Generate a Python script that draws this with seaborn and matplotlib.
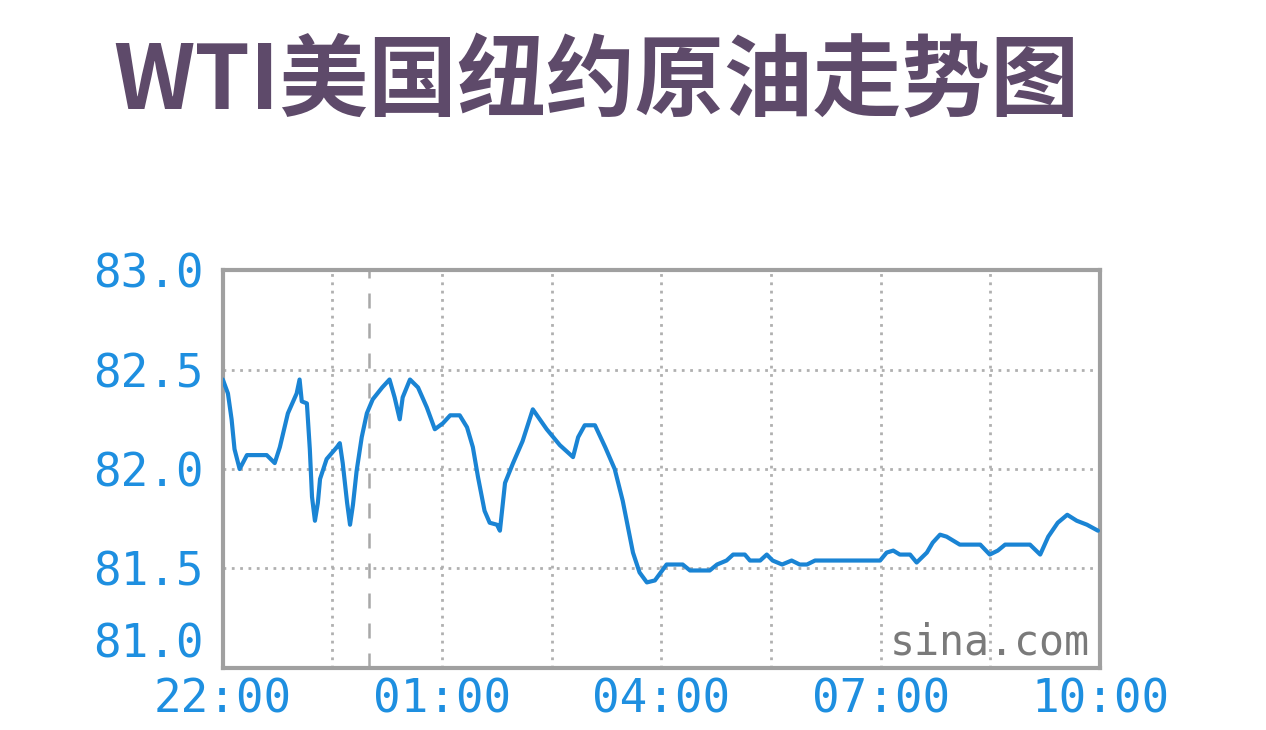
import matplotlib
matplotlib.use("Agg")
import matplotlib.pyplot as plt
import seaborn as sns
import pandas as pd

# --- Data (hours after 22:00, price in USD) ---
hours = [0.00, 0.07, 0.12, 0.16, 0.23, 0.33, 0.60, 0.71, 0.78, 0.89,
         1.01, 1.05, 1.08, 1.15, 1.19, 1.22, 1.26, 1.30, 1.33, 1.42,
         1.56, 1.60, 1.64, 1.70, 1.74, 1.78, 1.83, 1.90, 1.97, 2.05,
         2.18, 2.28, 2.35, 2.42, 2.46, 2.56, 2.67, 2.79, 2.90, 3.01,
         3.11, 3.24, 3.34, 3.42, 3.49, 3.58, 3.65, 3.75, 3.79, 3.86,
         3.97, 4.10, 4.24, 4.43, 4.61, 4.79, 4.86, 4.95, 5.09, 5.23,
         5.36, 5.47, 5.54, 5.61, 5.70, 5.80, 5.91, 6.07, 6.29, 6.39,
         6.66, 6.76, 6.89, 6.98, 7.14, 7.21, 7.35, 7.44, 7.52, 7.65,
         7.78, 7.89, 7.99, 8.10, 8.99, 9.08, 9.17, 9.26, 9.40, 9.49,
         9.63, 9.71, 9.81, 9.90, 9.99, 10.08, 10.36, 10.49, 10.60, 10.70,
         11.04, 11.18, 11.29, 11.42, 11.55, 11.68, 11.82, 11.97]
price = [82.45, 82.38, 82.25, 82.10, 82.00, 82.07, 82.07, 82.03, 82.11, 82.28,
         82.38, 82.45, 82.34, 82.33, 82.10, 81.86, 81.74, 81.83, 81.95, 82.05,
         82.11, 82.13, 82.03, 81.83, 81.72, 81.82, 81.99, 82.16, 82.28, 82.35,
         82.41, 82.45, 82.36, 82.25, 82.36, 82.45, 82.41, 82.31, 82.20, 82.23,
         82.27, 82.27, 82.21, 82.11, 81.96, 81.79, 81.73, 81.72, 81.69, 81.93,
         82.03, 82.14, 82.30, 82.20, 82.12, 82.06, 82.16, 82.22, 82.22, 82.11,
         82.00, 81.84, 81.71, 81.58, 81.48, 81.43, 81.44, 81.52, 81.52, 81.49,
         81.49, 81.52, 81.54, 81.57, 81.57, 81.54, 81.54, 81.57, 81.54, 81.52,
         81.54, 81.52, 81.52, 81.54, 81.54, 81.58, 81.59, 81.57, 81.57, 81.53,
         81.58, 81.63, 81.67, 81.66, 81.64, 81.62, 81.62, 81.57, 81.59, 81.62,
         81.62, 81.57, 81.66, 81.73, 81.77, 81.74, 81.72, 81.69]

x_ticks = [0, 3, 6, 9, 12]
x_labels = ["22:00", "01:00", "04:00", "07:00", "10:00"]
y_ticks = [81.0, 81.5, 82.0, 82.5, 83.0]
x_grid = [1.5, 3.0, 4.5, 6.0, 7.5, 9.0, 10.5]
midnight = 2.0

title = "WTI美国纽约原油走势图"

df = pd.DataFrame({"hours": hours, "price": price})

sns.set_style("white")
plt.rcParams["font.family"] = ["Noto Sans CJK SC", "DejaVu Sans"]

fig = plt.figure(figsize=(12.66, 7.30), dpi=100)
ax = fig.add_axes([0.176, 0.085, 0.693, 0.545])

grid_col = "#b0b0b0"
for g in x_grid:
    ax.axvline(g, color=grid_col, lw=2, ls=(0, (1, 2)), zorder=1)
for g in y_ticks[1:-1]:
    ax.axhline(g, color=grid_col, lw=2, ls=(0, (1, 2)), zorder=1)
ax.axvline(midnight, color="#a8a8a8", lw=1.8, ls=(0, (6, 6)), zorder=1)

sns.lineplot(data=df, x="hours", y="price", ax=ax, color="#1a84d4",
             linewidth=3, zorder=3)

ax.set_xlim(0, 12)
ax.set_ylim(81.0, 83.0)
ax.set_xticks(x_ticks)
ax.set_xticklabels(x_labels)
ax.set_yticks(y_ticks)
ax.set_yticklabels([f"{v:.1f}" for v in y_ticks])
ax.set_xlabel("")
ax.set_ylabel("")
ax.tick_params(length=0, labelcolor="#1e8fe0", labelsize=33)
ax.tick_params(axis="x", pad=7)
ax.tick_params(axis="y", pad=14)
for lab in ax.get_xticklabels() + ax.get_yticklabels():
    lab.set_family("DejaVu Sans Mono")
# lowest y label sits above the axis line, like the original
ax.get_yticklabels()[0].set_verticalalignment("bottom")

for s in ax.spines.values():
    s.set_color("#a0a0a0")
    s.set_linewidth(3)
    s.set_visible(True)

ax.text(0.988, 0.01, "sina.com", transform=ax.transAxes, ha="right",
        va="bottom", fontsize=30, color="#7a7a7a",
        family="DejaVu Sans Mono")

fig.text(0.471, 0.885, title, ha="center", va="center", fontsize=64,
         fontweight="bold", color="#5e4a6a")

fig.savefig("out.png", dpi=100)
